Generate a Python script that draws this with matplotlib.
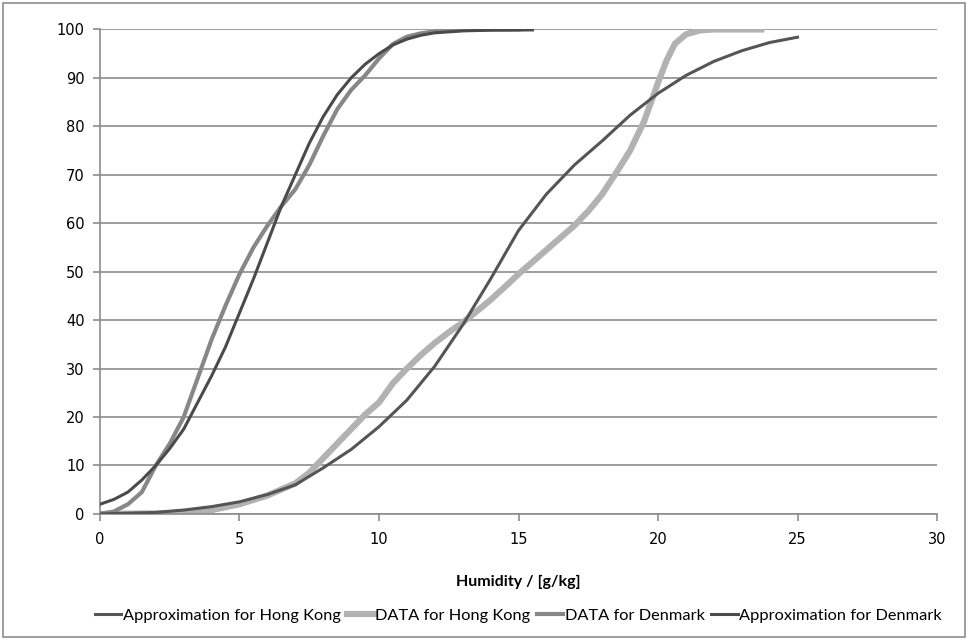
import numpy as np
import matplotlib.pyplot as plt
from matplotlib.patches import Rectangle

plt.rcParams['font.family'] = ['Lato', 'DejaVu Sans']

# cumulative frequency (%) vs humidity (g/kg)
hk_approx_x = [0, 2, 3, 4, 5, 6, 7, 8, 9, 10, 11, 12, 13, 14, 15, 16, 17, 18, 19, 20, 21, 22, 23, 24, 25]
hk_approx_y = [0, 0.3, 0.8, 1.5, 2.5, 4, 6, 9.5, 13.3, 18, 23.5, 30.5, 39, 48.5, 58.5, 66, 72, 77, 82.3, 86.8, 90.5, 93.4, 95.6, 97.3, 98.4]

hk_data_x = [0, 2, 3, 4, 5, 6, 7, 7.5, 8, 8.5, 9, 9.5, 10, 10.5, 11, 11.5, 12, 12.5, 13, 13.5, 14, 14.5,
             15, 15.5, 16, 16.5, 17, 17.5, 18, 18.5, 19, 19.5, 20, 20.3, 20.6, 21, 21.5, 22, 23.7]
hk_data_y = [0, 0.1, 0.3, 0.8, 2, 3.8, 6.3, 8.5, 11.5, 14.5, 17.5, 20.5, 23, 27, 30, 32.8, 35.3, 37.5, 39.5, 41.8, 44.2, 46.8,
             49.5, 52, 54.5, 57, 59.5, 62.5, 66, 70.4, 75, 81, 89, 93.5, 97, 99, 99.8, 100, 100]

dk_data_x = [0, 0.5, 1, 1.5, 2, 2.5, 3, 3.5, 4, 4.5, 5, 5.5, 6, 6.5, 7, 7.5, 8, 8.5, 9, 9.5, 10, 10.5, 11, 11.5, 12, 13, 14, 15]
dk_data_y = [0, 0.5, 2, 4.5, 10, 14.5, 20, 28, 36, 43, 49.5, 55, 59.5, 63.5, 67, 72, 78, 83.5, 87.5, 90.5, 94, 97, 98.5, 99.2, 99.6, 99.9, 100, 100]

dk_approx_x = [0, 0.5, 1, 1.5, 2, 2.5, 3, 3.5, 4, 4.5, 5, 5.5, 6, 6.5, 7, 7.5, 8, 8.5, 9, 9.5, 10, 10.5, 11, 11.5, 12, 13, 14, 15.5]
dk_approx_y = [2, 3, 4.5, 7, 10, 13.5, 17.5, 23, 28.5, 34.5, 41.5, 48.5, 56, 63.5, 70, 76.5, 82, 86.5, 90, 92.8, 95, 96.8, 98, 98.8, 99.3, 99.7, 99.85, 99.9]

fig = plt.figure(figsize=(9.68, 6.4), dpi=100)
ax = fig.add_axes([0.1033, 0.197, 0.8647, 0.757])

ax.plot(hk_approx_x, hk_approx_y, color='#555555', lw=2.2, label='Approximation for Hong Kong', zorder=3)
ax.plot(hk_data_x, hk_data_y, color='#b2b2b2', lw=4.5, label='DATA for Hong Kong', zorder=2)
ax.plot(dk_data_x, dk_data_y, color='#878787', lw=3.0, label='DATA for Denmark', zorder=2)
ax.plot(dk_approx_x, dk_approx_y, color='#4a4a4a', lw=2.2, label='Approximation for Denmark', zorder=3)

ax.set_xlim(0, 30)
ax.set_ylim(0, 100)
ax.set_xticks(np.arange(0, 31, 5))
ax.set_yticks(np.arange(0, 101, 10))
ax.yaxis.grid(True, color='#8c8c8c', lw=1.2)
ax.set_axisbelow(True)
for s in ['top', 'right']:
    ax.spines[s].set_visible(False)
for s in ['left', 'bottom']:
    ax.spines[s].set_color('#8c8c8c')
    ax.spines[s].set_linewidth(1.2)
ax.tick_params(axis='both', colors='#8c8c8c', labelcolor='black', labelsize=10.5,
               length=5, width=1.2, labelfontfamily='DejaVu Sans')
ax.tick_params(axis='y', pad=6)
ax.tick_params(axis='x', pad=8)

ax.set_xlabel('Humidity / [g/kg]', fontsize=11.5, fontweight='bold', labelpad=20)

ax.legend(loc='upper center', bbox_to_anchor=(0.5, -0.165), ncol=4, frameon=False,
          fontsize=11.8, handlelength=1.6, handletextpad=0.1, columnspacing=0.4)

fig.patches.append(Rectangle((0.003, 0.004), 0.994, 0.992, transform=fig.transFigure,
                             fill=False, edgecolor='#8c8c8c', lw=1.2))

fig.savefig('out.png', dpi=100)
